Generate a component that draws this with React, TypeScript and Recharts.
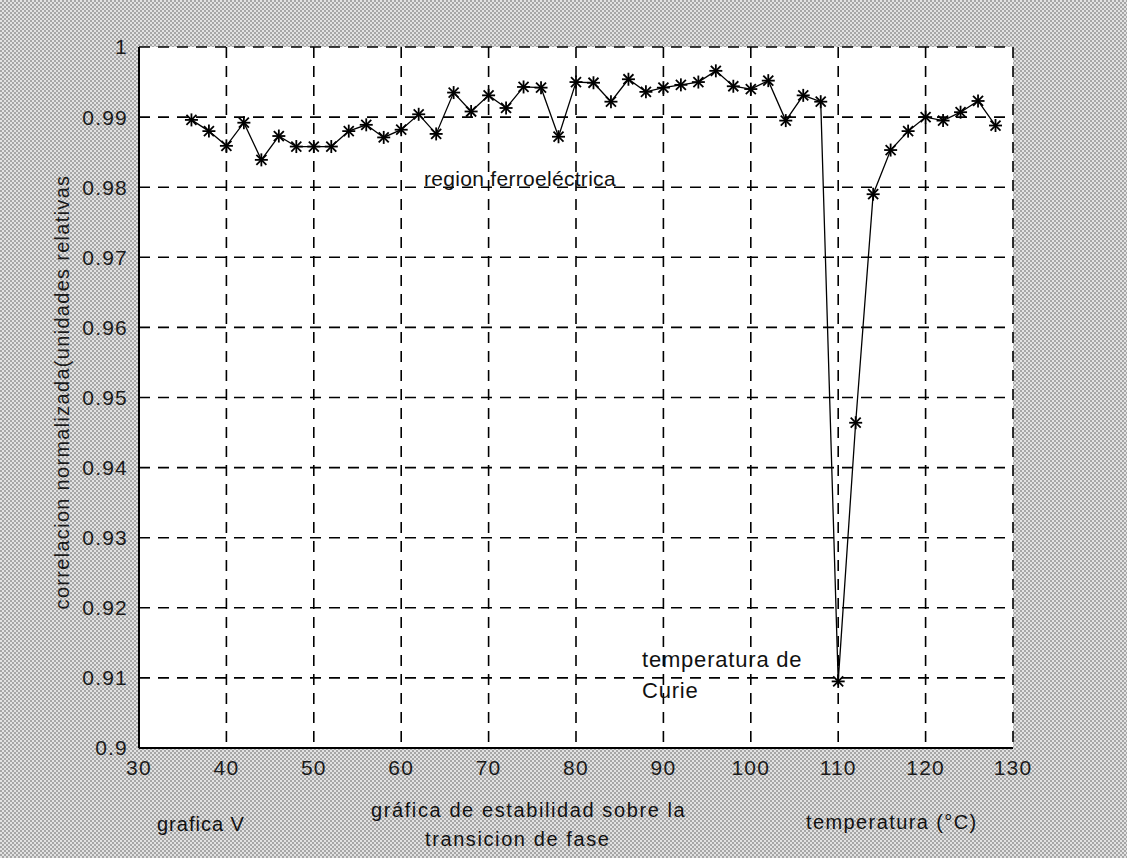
import { CartesianGrid, Line, LineChart, XAxis, YAxis } from "recharts";

const temps = [
  36, 38, 40, 42, 44, 46, 48, 50, 52, 54, 56, 58, 60, 62, 64, 66, 68, 70, 72, 74, 76, 78, 80, 82,
  84, 86, 88, 90, 92, 94, 96, 98, 100, 102, 104, 106, 108, 110, 112, 114, 116, 118, 120, 122, 124,
  126, 128,
];

const correlation = [
  0.9896, 0.988, 0.9859, 0.9892, 0.9839, 0.9873, 0.9858, 0.9858, 0.9858, 0.988, 0.9889, 0.9871,
  0.9882, 0.9904, 0.9876, 0.9935, 0.9908, 0.9931, 0.9913, 0.9943, 0.9942, 0.9872, 0.995, 0.9949,
  0.9922, 0.9954, 0.9936, 0.9942, 0.9946, 0.995, 0.9966, 0.9944, 0.994, 0.9952, 0.9895, 0.9931,
  0.9922, 0.9095, 0.9464, 0.979, 0.9853, 0.988, 0.99, 0.9895, 0.9907, 0.9923, 0.9888,
];

const xTicks = [30, 40, 50, 60, 70, 80, 90, 100, 110, 120, 130];
const yTicks = [0.9, 0.91, 0.92, 0.93, 0.94, 0.95, 0.96, 0.97, 0.98, 0.99, 1];
const yTickLabels = ["0.9", "0.91", "0.92", "0.93", "0.94", "0.95", "0.96", "0.97", "0.98", "0.99", "1"];

const data = temps.map((t, i) => ({ t, c: correlation[i] }));

const font = '"Liberation Sans", Arial, sans-serif';

// MATLAB-style '*' marker: a plus and an x on top of each other
function Asterisk(props: any) {
  const { cx, cy, index } = props;
  if (cx == null || cy == null) return <g key={index} />;
  const r = 6.5;
  const d = 5;
  return (
    <g key={index} stroke="#000" strokeWidth={1.8}>
      <line x1={cx - r} y1={cy} x2={cx + r} y2={cy} />
      <line x1={cx} y1={cy - r} x2={cx} y2={cy + r} />
      <line x1={cx - d} y1={cy - d} x2={cx + d} y2={cy + d} />
      <line x1={cx - d} y1={cy + d} x2={cx + d} y2={cy - d} />
    </g>
  );
}

const tickStyle = { fill: "#1a1a1a", fontSize: 21, fontFamily: font, letterSpacing: 1.2 };

const textStyle = {
  position: "absolute" as const,
  fontFamily: font,
  color: "#111",
  whiteSpace: "nowrap" as const,
  lineHeight: 1,
};

export default function App() {
  return (
    <div
      style={{
        position: "absolute",
        left: 0,
        top: 0,
        width: 1127,
        height: 858,
        background: "repeating-conic-gradient(#a6a6a6 0 25%, #e2e2e2 0 50%) 0 0 / 4px 4px",
      }}
    >
      <LineChart width={1127} height={858} data={data} margin={{ top: 47, right: 114, bottom: 70, left: 69 }}>
        <CartesianGrid fill="#fff" stroke="#000" strokeWidth={1.6} strokeDasharray="11 8" />
        <XAxis
          dataKey="t"
          type="number"
          domain={[30, 130]}
          ticks={xTicks}
          height={40}
          tickLine={false}
          tickMargin={6}
          axisLine={{ stroke: "#000", strokeWidth: 2 }}
          tick={tickStyle}
        />
        <XAxis
          xAxisId="top"
          orientation="top"
          type="number"
          domain={[30, 130]}
          ticks={xTicks}
          height={0}
          tick={false}
          tickLine={false}
          axisLine={{ stroke: "#000", strokeWidth: 2 }}
        />
        <YAxis
          type="number"
          domain={[0.9, 1]}
          ticks={yTicks}
          width={70}
          tickLine={false}
          tickMargin={5}
          interval={0}
          axisLine={{ stroke: "#000", strokeWidth: 2 }}
          tick={tickStyle}
          tickFormatter={(v: number) => yTickLabels[yTicks.findIndex((y) => Math.abs(y - v) < 1e-6)] ?? ""}
        />
        <YAxis
          yAxisId="right"
          orientation="right"
          type="number"
          domain={[0.9, 1]}
          width={0}
          tick={false}
          tickLine={false}
          axisLine={{ stroke: "#000", strokeWidth: 2 }}
        />
        <Line
          dataKey="c"
          type="linear"
          stroke="#000"
          strokeWidth={1.3}
          dot={Asterisk}
          activeDot={false}
          isAnimationActive={false}
        />
      </LineChart>

      <div style={{ ...textStyle, left: 424, top: 168, fontSize: 21, letterSpacing: 0.3 }}>region ferroeléctrica</div>
      <div style={{ ...textStyle, left: 642, top: 649, fontSize: 22, letterSpacing: 0.8 }}>temperatura de</div>
      <div style={{ ...textStyle, left: 642, top: 680, fontSize: 22, letterSpacing: 0.8 }}>Curie</div>

      <div
        style={{
          ...textStyle,
          left: 62,
          top: 392,
          fontSize: 20,
          letterSpacing: 1.3,
          color: "#1a1a1a",
          transform: "translate(-50%, -50%) rotate(-90deg)",
        }}
      >
        correlacion normalizada(unidades relativas
      </div>

      <div style={{ ...textStyle, left: 157, top: 814, fontSize: 20, letterSpacing: 1 }}>grafica V</div>
      <div style={{ ...textStyle, left: 371, top: 800, fontSize: 20, letterSpacing: 1.6 }}>
        gráfica de estabilidad sobre la
      </div>
      <div style={{ ...textStyle, left: 425, top: 829, fontSize: 20, letterSpacing: 1.6 }}>transicion de fase</div>
      <div style={{ ...textStyle, left: 806, top: 812, fontSize: 20, letterSpacing: 1.4 }}>temperatura (°C)</div>
    </div>
  );
}
